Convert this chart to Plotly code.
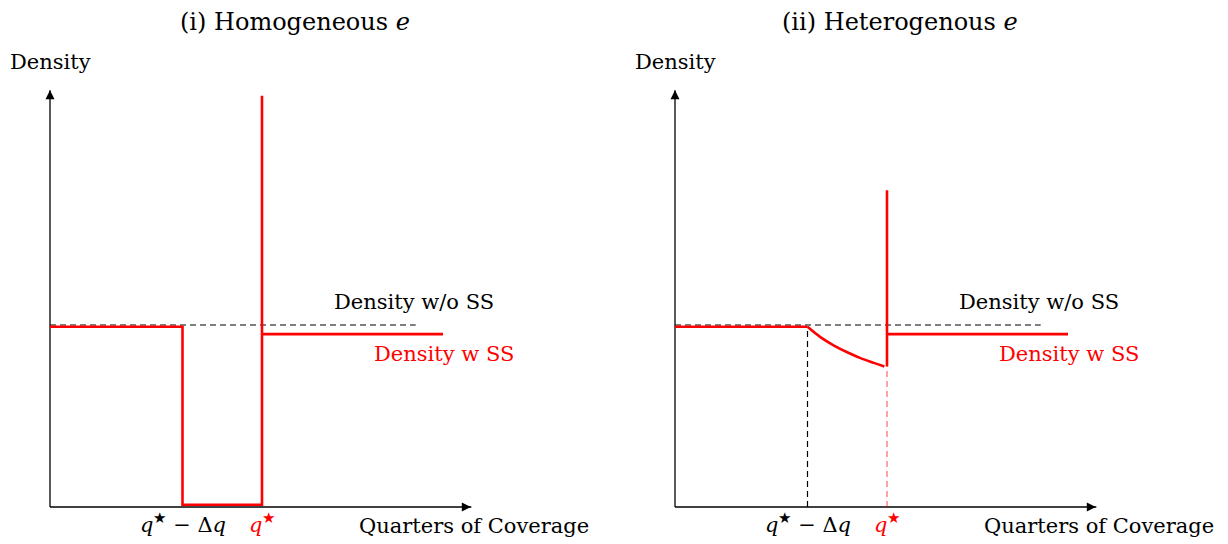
import plotly.graph_objects as go

# ---- data (conceptual units: quarters on x, density on y) ----
q_star = 8.0            # q*
q_minus_dq = 5.0        # q* - Δq
x_axis_end = 16.0
y_axis_end = 2.31
x_end_red = 14.83
x_end_dash = 13.8
dens_without = 1.0      # density w/o SS
dens_with_left = 0.99   # density w SS before the gap
dens_with_right = 0.95  # density w SS after q*
dens_gap_i = 0.012      # panel (i) density inside the gap
spike_i = 2.26
spike_ii = 1.74
curve_x = [5.0, 5.5, 6.0, 6.5, 7.0, 7.5, 7.9]
curve_y = [0.99, 0.932, 0.887, 0.85, 0.818, 0.792, 0.772]

titles = ["(i) Homogeneous <i>e</i>", "(ii) Heterogenous <i>e</i>"]
tick_labels = ["<i>q</i><sup>★</sup> − Δ<i>q</i>", "<i>q</i><sup>★</sup>"]

FONT = "DejaVu Serif"
RED = "#ff0000"
W, H = 1228, 544
PX = 26.5   # pixels per x unit
PY = 182.0  # pixels per y unit
XR = [-0.5, 16.5]
YR = [-0.2, 2.55]
origins = [50, 675]
oy = 507

fig = go.Figure()

def xdom(ox):
    return [(ox + XR[0] * PX) / W, (ox + XR[1] * PX) / W]

ydom = [(H - (oy - YR[0] * PY)) / H, (H - (oy - YR[1] * PY)) / H]

fig.update_layout(
    width=W, height=H, margin=dict(l=0, r=0, t=0, b=0),
    paper_bgcolor="white", plot_bgcolor="white", showlegend=False,
    xaxis=dict(domain=xdom(origins[0]), range=XR, visible=False),
    yaxis=dict(domain=ydom, range=YR, visible=False),
    xaxis2=dict(domain=xdom(origins[1]), range=XR, visible=False, anchor="y2"),
    yaxis2=dict(domain=ydom, range=YR, visible=False, anchor="x2"),
)

dash_black = dict(color="black", width=1.2, dash="6px,4px")
red_line = dict(color=RED, width=2.6)

for i, (xa, ya) in enumerate([("x", "y"), ("x2", "y2")]):
    # axes with arrows
    fig.add_trace(go.Scatter(x=[0, x_axis_end - 0.1], y=[0, 0], mode="lines",
                             line=dict(color="black", width=1.3), xaxis=xa, yaxis=ya))
    fig.add_trace(go.Scatter(x=[0, 0], y=[0, y_axis_end - 0.02], mode="lines",
                             line=dict(color="black", width=1.3), xaxis=xa, yaxis=ya))
    fig.add_trace(go.Scatter(x=[x_axis_end - 0.12], y=[0], mode="markers",
                             marker=dict(symbol="arrow-right", size=9, color="black"),
                             xaxis=xa, yaxis=ya, hoverinfo="skip"))
    fig.add_trace(go.Scatter(x=[0], y=[y_axis_end - 0.02], mode="markers",
                             marker=dict(symbol="arrow-up", size=9, color="black"),
                             xaxis=xa, yaxis=ya, hoverinfo="skip"))
    # density without SS
    fig.add_trace(go.Scatter(x=[0, x_end_dash], y=[dens_without, dens_without], mode="lines",
                             line=dash_black, xaxis=xa, yaxis=ya))
    if i == 0:
        fig.add_trace(go.Scatter(
            x=[0, q_minus_dq, q_minus_dq, q_star, q_star],
            y=[dens_with_left, dens_with_left, dens_gap_i, dens_gap_i, spike_i],
            mode="lines", line=red_line, xaxis=xa, yaxis=ya))
    else:
        fig.add_trace(go.Scatter(x=[q_minus_dq, q_minus_dq], y=[0, dens_with_left], mode="lines",
                                 line=dash_black, xaxis=xa, yaxis=ya))
        fig.add_trace(go.Scatter(x=[q_star, q_star], y=[0, curve_y[-1]], mode="lines",
                                 line=dict(color="rgba(255,0,0,0.6)", width=1.2, dash="6px,4px"),
                                 xaxis=xa, yaxis=ya))
        fig.add_trace(go.Scatter(x=[0, q_minus_dq], y=[dens_with_left, dens_with_left], mode="lines",
                                 line=red_line, xaxis=xa, yaxis=ya))
        fig.add_trace(go.Scatter(x=curve_x, y=curve_y, mode="lines",
                                 line=dict(color=RED, width=2.6, shape="spline", smoothing=1.0),
                                 xaxis=xa, yaxis=ya))
        fig.add_trace(go.Scatter(x=[q_star, q_star], y=[curve_y[-1], spike_ii], mode="lines",
                                 line=red_line, xaxis=xa, yaxis=ya))
    fig.add_trace(go.Scatter(x=[q_star, x_end_red], y=[dens_with_right, dens_with_right],
                             mode="lines", line=red_line, xaxis=xa, yaxis=ya))

    # texts
    fs = 21
    fig.add_annotation(x=0, y=2.445, xref=xa, yref=ya, text="Density", showarrow=False,
                       font=dict(family=FONT, size=fs, color="black"))
    fig.add_annotation(x=13.74, y=1.126, xref=xa, yref=ya, text="Density w/o SS", showarrow=False,
                       font=dict(family=FONT, size=fs, color="black"))
    fig.add_annotation(x=14.87, y=0.84, xref=xa, yref=ya, text="Density w SS", showarrow=False,
                       font=dict(family=FONT, size=fs, color=RED))
    fig.add_annotation(x=q_minus_dq, y=-0.09, xref=xa, yref=ya, text=tick_labels[0], showarrow=False,
                       font=dict(family=FONT, size=fs, color="black"))
    fig.add_annotation(x=q_star, y=-0.09, xref=xa, yref=ya, text=tick_labels[1], showarrow=False,
                       font=dict(family=FONT, size=fs, color=RED))
    fig.add_annotation(x=16.0, y=-0.105, xref=xa, yref=ya, text="Quarters of Coverage",
                       showarrow=False, font=dict(family=FONT, size=fs, color="black"))

fig.add_annotation(x=295 / W, y=1 - 22 / H, xref="paper", yref="paper", text=titles[0],
                   showarrow=False, xanchor="center", yanchor="middle",
                   font=dict(family=FONT, size=24, color="black"))
fig.add_annotation(x=900 / W, y=1 - 22 / H, xref="paper", yref="paper", text=titles[1],
                   showarrow=False, xanchor="center", yanchor="middle",
                   font=dict(family=FONT, size=24, color="black"))

fig.write_html("out.html")
